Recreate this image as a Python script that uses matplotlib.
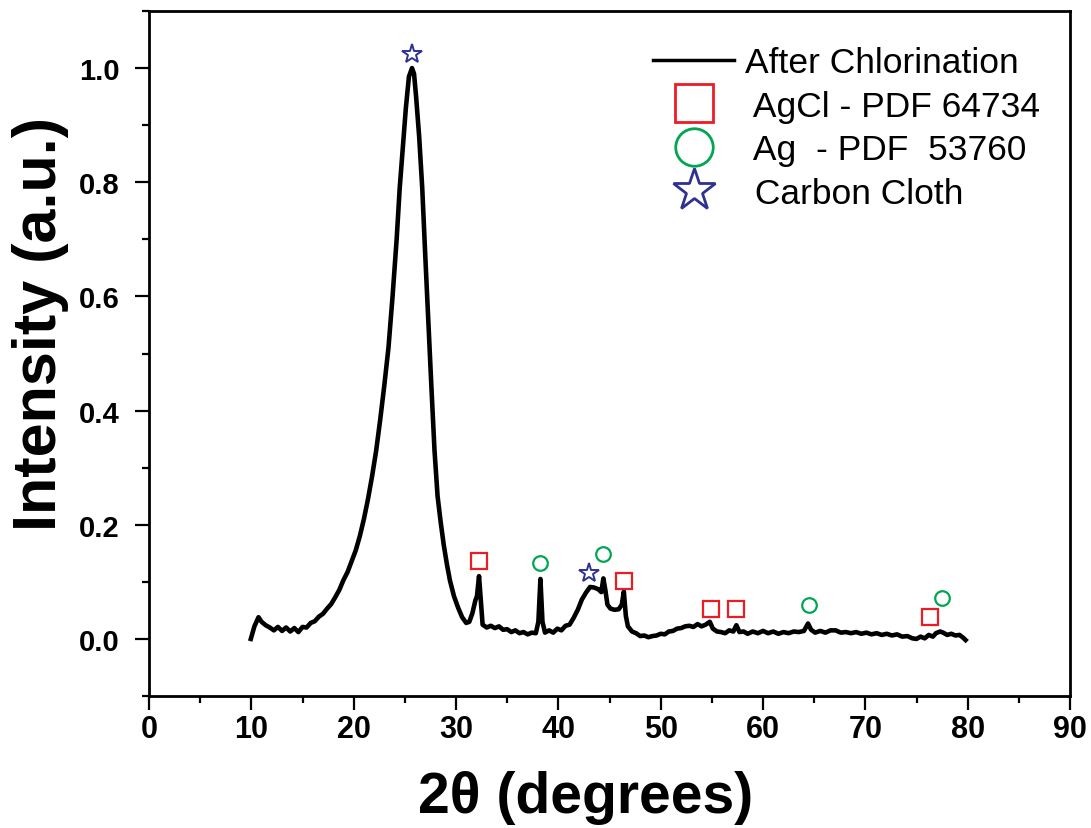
import matplotlib
matplotlib.use("Agg")
import matplotlib.pyplot as plt
from matplotlib.lines import Line2D
from matplotlib.ticker import MultipleLocator
import numpy as np

plt.rcParams['font.family'] = ['Liberation Sans', 'DejaVu Sans']

# XRD pattern after chlorination (2theta in degrees, normalised intensity)
two_theta = [
    9.95, 10.3, 10.7, 11.0, 11.4, 11.8, 12.2, 12.6, 13.0, 13.4, 13.8, 14.2,
    14.6, 15.0, 15.4, 15.8, 16.2, 16.6, 17.0, 17.4, 17.8, 18.2, 18.6, 19.0,
    19.4, 19.8, 20.2, 20.6, 21.0, 21.4, 21.8, 22.2, 22.6, 23.0, 23.4, 23.8,
    24.2, 24.5, 24.8, 25.1, 25.4, 25.7, 25.9, 26.1, 26.4, 26.7, 27.0, 27.3,
    27.6, 27.9, 28.2, 28.5, 28.8, 29.1, 29.4, 29.8, 30.2, 30.6, 31.0, 31.3,
    31.6, 31.9, 32.05, 32.25, 32.45, 32.6, 33.0, 33.4, 33.8, 34.2, 34.6, 35.0,
    35.4, 35.8, 36.2, 36.6, 37.0, 37.4, 37.8, 38.05, 38.25, 38.45, 38.7, 39.1,
    39.5, 39.9, 40.3, 40.7, 41.1, 41.5, 41.9, 42.3, 42.7, 43.1, 43.5, 43.9,
    44.2, 44.4, 44.6, 44.8, 45.1, 45.5, 45.9, 46.2, 46.4, 46.6, 46.8, 47.2,
    47.6, 48.0, 48.4, 48.8, 49.2, 49.6, 50.0, 50.4, 50.8, 51.2, 51.6, 52.0,
    52.4, 52.8, 53.2, 53.6, 54.0, 54.4, 54.8, 55.1, 55.5, 55.9, 56.3, 56.7,
    57.1, 57.4, 57.7, 58.1, 58.5, 59.0, 59.5, 60.0, 60.5, 61.0, 61.5, 62.0,
    62.5, 63.0, 63.5, 64.0, 64.4, 64.7, 65.1, 65.6, 66.1, 66.6, 67.1, 67.6,
    68.1, 68.6, 69.1, 69.6, 70.1, 70.6, 71.1, 71.6, 72.1, 72.6, 73.1, 73.6,
    74.1, 74.6, 75.0, 75.4, 75.8, 76.2, 76.6, 76.9, 77.3, 77.6, 78.0, 78.4,
    78.8, 79.2, 79.5, 79.8,
]
intensity = [
    0.000, 0.022, 0.038, 0.030, 0.024, 0.020, 0.015, 0.021, 0.014, 0.020, 0.013, 0.019,
    0.012, 0.021, 0.020, 0.028, 0.031, 0.039, 0.044, 0.053, 0.061, 0.073, 0.086, 0.103,
    0.117, 0.136, 0.155, 0.180, 0.210, 0.245, 0.285, 0.330, 0.385, 0.445, 0.510, 0.600,
    0.700, 0.790, 0.860, 0.930, 0.985, 1.000, 0.990, 0.950, 0.880, 0.790, 0.670, 0.555,
    0.440, 0.330, 0.250, 0.205, 0.165, 0.132, 0.103, 0.075, 0.055, 0.038, 0.028, 0.030,
    0.045, 0.068, 0.075, 0.110, 0.060, 0.025, 0.020, 0.023, 0.019, 0.022, 0.016, 0.017,
    0.012, 0.015, 0.010, 0.012, 0.008, 0.011, 0.010, 0.030, 0.105, 0.030, 0.011, 0.015,
    0.011, 0.018, 0.015, 0.023, 0.025, 0.037, 0.051, 0.069, 0.081, 0.091, 0.090, 0.087,
    0.082, 0.106, 0.085, 0.060, 0.053, 0.051, 0.052, 0.060, 0.083, 0.040, 0.022, 0.013,
    0.010, 0.005, 0.006, 0.003, 0.005, 0.006, 0.009, 0.008, 0.013, 0.014, 0.018, 0.019,
    0.022, 0.023, 0.021, 0.026, 0.022, 0.025, 0.030, 0.018, 0.013, 0.012, 0.010, 0.015,
    0.013, 0.024, 0.012, 0.013, 0.009, 0.013, 0.010, 0.014, 0.010, 0.013, 0.009, 0.012,
    0.010, 0.013, 0.012, 0.014, 0.027, 0.016, 0.011, 0.014, 0.011, 0.015, 0.015, 0.011,
    0.012, 0.010, 0.012, 0.009, 0.011, 0.008, 0.010, 0.007, 0.009, 0.006, 0.008, 0.004,
    0.005, 0.001, 0.000, 0.004, 0.001, 0.007, 0.004, 0.010, 0.013, 0.011, 0.007, 0.009,
    0.006, 0.007, 0.003, -0.002,
]

# phase markers placed above the indexed reflections
agcl_x = [32.2, 46.4, 54.9, 57.4, 76.3]
agcl_y = [0.137, 0.102, 0.053, 0.053, 0.039]
ag_x = [38.2, 44.4, 64.5, 77.5]
ag_y = [0.133, 0.149, 0.060, 0.072]
carbon_x = [25.7, 43.0]
carbon_y = [1.025, 0.116]

labels = ["After Chlorination", " AgCl - PDF 64734", " Ag  - PDF  53760", " Carbon Cloth"]

red = '#ed1c24'
green = '#00a651'
blue = '#2e3192'

fig = plt.figure(figsize=(10.91, 8.29), dpi=100)
ax = fig.add_axes([149/1091, 1 - 697/829, (1070 - 149)/1091, (697 - 12)/829])

ax.plot(two_theta, intensity, color='black', lw=3.3, solid_joinstyle='round')
ax.plot(agcl_x, agcl_y, ls='none', marker='s', ms=11, mfc='none', mec=red, mew=1.6)
ax.plot(ag_x, ag_y, ls='none', marker='o', ms=10.5, mfc='none', mec=green, mew=1.6)
ax.plot(carbon_x, carbon_y, ls='none', marker='*', ms=14.5, mfc='none', mec=blue, mew=1.4)

ax.set_xlim(0, 90)
ax.set_ylim(-0.1, 1.1)
ax.xaxis.set_major_locator(MultipleLocator(10))
ax.xaxis.set_minor_locator(MultipleLocator(5))
ax.yaxis.set_minor_locator(MultipleLocator(0.1))
ax.set_yticks([0.0, 0.2, 0.4, 0.6, 0.8, 1.0])
ax.set_yticklabels(['0.0', '0.2', '0.4', '0.6', '0.8', '1.0'])

for s in ax.spines.values():
    s.set_linewidth(2.0)
ax.tick_params(which='both', direction='out', top=False, right=False, width=1.6)
ax.tick_params(which='major', length=10)
ax.tick_params(which='minor', length=5)
ax.tick_params(axis='x', which='major', labelsize=22, pad=3)
ax.tick_params(axis='y', which='major', labelsize=21, pad=11)
for t in ax.get_xticklabels() + ax.get_yticklabels():
    t.set_fontweight('bold')

ax.set_xlabel('2θ (degrees)', fontsize=41, fontweight='bold')
ax.xaxis.set_label_coords((586 - 149)/921, -0.108)
ax.set_ylabel('Intensity (a.u.)', fontsize=44, fontweight='bold')
ax.yaxis.set_label_coords(-0.087, 0.545)

handles = [
    Line2D([], [], color='black', lw=2.5),
    Line2D([], [], ls='none', marker='s', ms=27, mfc='none', mec=red, mew=2.0),
    Line2D([], [], ls='none', marker='o', ms=27, mfc='none', mec=green, mew=2.0),
    Line2D([], [], ls='none', marker='*', ms=32, mfc='none', mec=blue, mew=2.0),
]
fig.legend(handles, labels, loc='upper left', bbox_to_anchor=(653/1091, 1 - 47/829),
           frameon=False, fontsize=25.5, handlelength=2.3, handletextpad=0.29,
           labelspacing=0.3, borderpad=0, borderaxespad=0)

fig.savefig('out.png', dpi=100)
